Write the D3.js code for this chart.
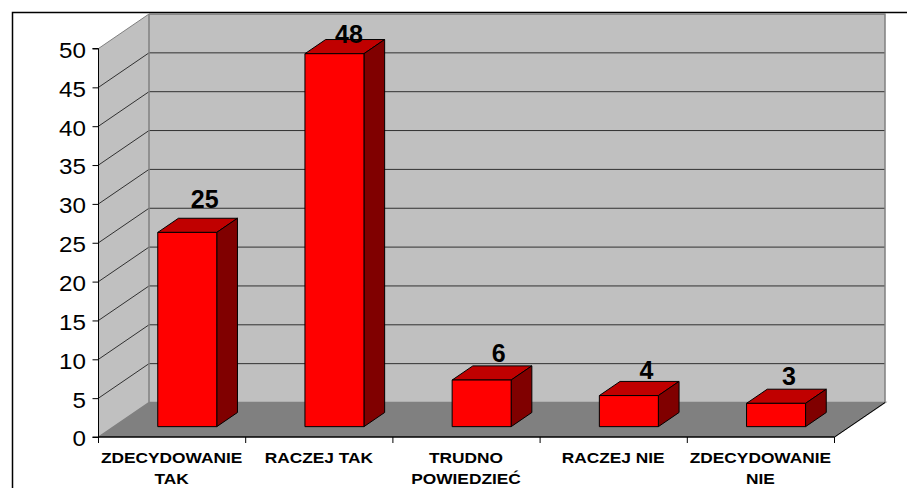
<!DOCTYPE html>
<html>
<head>
<meta charset="utf-8">
<script src="https://cdn.jsdelivr.net/npm/d3@7"></script>
<style>
  html, body { margin: 0; padding: 0; background: #fff; }
  svg { display: block; }
  text { font-family: "Liberation Sans", Arial, sans-serif; fill: #000; }
</style>
</head>
<body>
<div id="chart"></div>
<script>
var categories = [["ZDECYDOWANIE", "TAK"], ["RACZEJ TAK"], ["TRUDNO", "POWIEDZIEĆ"], ["RACZEJ NIE"], ["ZDECYDOWANIE", "NIE"]];
var values = [25, 48, 6, 4, 3];
var yTicks = [0, 5, 10, 15, 20, 25, 30, 35, 40, 45, 50];

var width = 907, height = 488;
var svg = d3.select("#chart").append("svg").attr("width", width).attr("height", height);

// front plane of the 3d box, and how far back it goes
var depthX = 50.5, depthY = -34.5;
var x = d3.scaleBand().domain(d3.range(categories.length)).range([98.5, 834.5]);
var y = d3.scaleLinear().domain([0, 50]).range([437, 48.5]);

// bars sit a bit inside the box
var barFront = 0.30, barBack = 0.71, barWidth = 59;
var pts = function(a){ return a.map(function(p){ return p.join(",") }).join(" ") };

// frame
svg.append("path").attr("d", "M12.5,488V12.5H907").attr("fill", "none").attr("stroke", "#000").attr("stroke-width", 1.5);

var x0 = x.range()[0], x1 = x.range()[1];
var yTop = y(50), yBase = y(0);

// walls and floor
svg.append("polygon").attr("points", pts([[x0, yBase], [x0 + depthX, yBase + depthY], [x0 + depthX, yTop + depthY], [x0, yTop]]))
    .attr("fill", "#c0c0c0");
svg.append("polygon").attr("points", pts([[x0 + depthX, yBase + depthY], [x1 + depthX, yBase + depthY], [x1 + depthX, yTop + depthY], [x0 + depthX, yTop + depthY]]))
    .attr("fill", "#c0c0c0");
svg.append("polygon").attr("points", pts([[x0, yBase], [x1, yBase], [x1 + depthX, yBase + depthY], [x0 + depthX, yBase + depthY]]))
    .attr("fill", "#808080");

// gridlines
var grid = svg.append("g").attr("fill", "none").attr("stroke", "#000").attr("stroke-width", 1);
yTicks.slice(1).forEach(function(t){
    grid.append("path")
        .attr("d", "M" + x0 + "," + y(t) + "L" + (x0 + depthX) + "," + (y(t) + depthY) + "H" + (x1 + depthX))
        .attr("stroke", t === 50 ? "#808080" : "#000")
        .attr("stroke-opacity", t === 50 ? 1 : 0.75);
});

// wall edges
svg.append("path")
    .attr("d", "M" + (x0 + depthX) + "," + (yTop + depthY) + "V" + (yBase + depthY) + "L" + x0 + "," + yBase
        + "M" + (x0 + depthX) + "," + (yBase + depthY) + "H" + (x1 + depthX) + "L" + x1 + "," + yBase
        + "M" + (x1 + depthX) + "," + (yBase + depthY) + "V" + (yTop + depthY) + "H" + (x0 + depthX))
    .attr("fill", "none").attr("stroke", "#808080").attr("stroke-width", 1.5);
svg.append("path").attr("d", "M" + x1 + "," + yBase + "L" + (x1 + depthX) + "," + (yBase + depthY))
    .attr("fill", "none").attr("stroke", "#000").attr("stroke-width", 1);

// bars
var bars = svg.append("g").selectAll("g").data(values).enter().append("g")
    .attr("stroke", "#000").attr("stroke-width", 1).attr("stroke-linejoin", "round");

var bx = function(i){ return x(i) + x.bandwidth()/2 + depthX*barFront - barWidth/2 };
var by = function(v){ return y(v) + depthY*barFront };
var bdx = depthX*(barBack - barFront), bdy = depthY*(barBack - barFront);

bars.append("polygon")
    .attr("points", function(d, i){
        return pts([[bx(i), by(d)], [bx(i) + bdx, by(d) + bdy], [bx(i) + barWidth + bdx, by(d) + bdy], [bx(i) + barWidth, by(d)]]);
    })
    .attr("fill", "#c00000");
bars.append("polygon")
    .attr("points", function(d, i){
        return pts([[bx(i) + barWidth, by(d)], [bx(i) + barWidth + bdx, by(d) + bdy], [bx(i) + barWidth + bdx, by(0) + bdy], [bx(i) + barWidth, by(0)]]);
    })
    .attr("fill", "#800000");
bars.append("rect")
    .attr("x", function(d, i){ return bx(i) })
    .attr("y", function(d){ return by(d) })
    .attr("width", barWidth)
    .attr("height", function(d){ return by(0) - by(d) })
    .attr("fill", "#ff0000");

// value labels, these were dragged by hand in the original
var labelDx = [17.5, 14.5, 17, 17.5, 13];
var labelDy = [-24, -10.5, -18.5, -16.5, -18];
svg.append("g").selectAll("text").data(values).enter().append("text")
    .attr("x", function(d, i){ return bx(i) + barWidth/2 + labelDx[i] })
    .attr("y", function(d, i){ return by(d) + labelDy[i] })
    .attr("text-anchor", "middle")
    .style("font-size", "25px").style("font-weight", "bold")
    .text(function(d){ return d });

// axes
var yAxis = d3.axisLeft(y).tickValues(yTicks).tickSize(6);
var gy = svg.append("g").attr("transform", "translate(" + x0 + ",0)").call(yAxis);
// tick numbers are a little wider than they are tall in the original
gy.selectAll("text")
    .style("font-size", "22px")
    .attr("x", 0).attr("dy", "0.36em")
    .attr("transform", "translate(-12.5,1) scale(1.1,1)");
gy.selectAll("path, line").attr("stroke", "#000");
gy.select(".domain").attr("d", "M-6," + yTop + "H0V" + yBase + "H-6");

var xAxis = d3.axisBottom(x).tickSize(0).tickFormat("");
var gx = svg.append("g").attr("transform", "translate(0," + yBase + ")").call(xAxis);
gx.select(".domain").attr("stroke", "#000").attr("stroke-width", 1.5).attr("d", "M" + x0 + ",0H" + x1);
var edges = [x0].concat(d3.range(categories.length).map(function(i){ return x(i) + x.bandwidth() }));
gx.selectAll(".edge").data(edges).enter().append("line").attr("class", "edge")
    .attr("x1", function(d){ return d }).attr("x2", function(d){ return d })
    .attr("y1", 0).attr("y2", 6).attr("stroke", "#000");

// category labels, stretched sideways like the original
var catLabels = svg.append("g").selectAll("text").data(categories).enter().append("text")
    .attr("text-anchor", "middle")
    .attr("transform", function(d, i){ return "translate(" + (x(i) + x.bandwidth()/2 - 0.5) + ",0) scale(1.155,1)" })
    .style("font-size", "15px").style("font-weight", "bold");
catLabels.selectAll("tspan").data(function(d){ return d }).enter().append("tspan")
    .attr("x", 0)
    .attr("y", function(d, i){ return 463 + i*21 })
    .text(function(d){ return d });
</script>
</body>
</html>
